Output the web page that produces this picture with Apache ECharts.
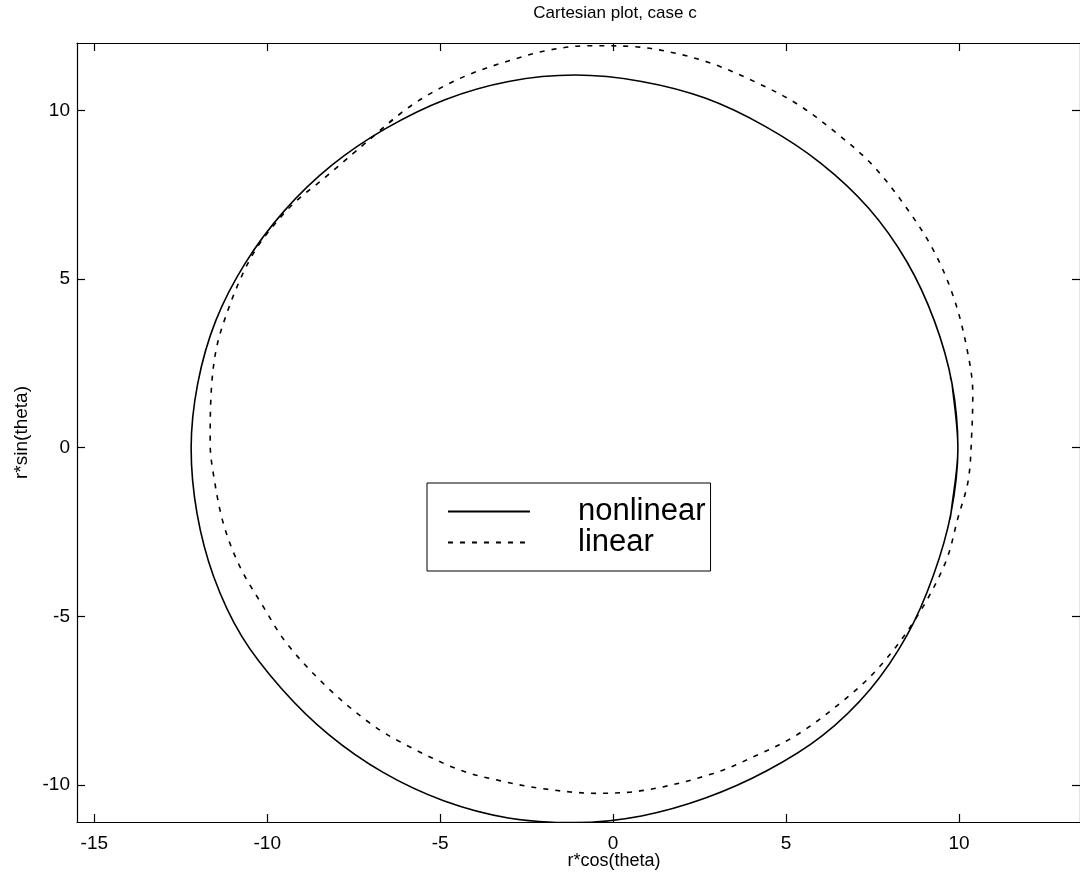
<!DOCTYPE html>
<html>
<head>
<meta charset="utf-8">
<script src="https://cdn.jsdelivr.net/npm/echarts@6/dist/echarts.min.js"></script>
<style>
html,body{margin:0;padding:0;background:#fff;}
#chart{width:1080px;height:886px;}
</style>
</head>
<body>
<div id="chart"></div>
<script>
// nonlinear (solid) curve, traced counter-clockwise (ends overlap so the loop closes smoothly)
var nonlinearX = [9.74, 9.77, 9.97, 9.80, 9.29, 8.49, 7.39, 6.00, 4.41, 2.68, 0.82, -1.10, -3.02, -4.86, -6.58, -8.14, -9.50, -10.63, -11.49, -12.01, -12.20, -12.03, -11.55, -10.74, -9.59, -8.22, -6.65, -4.90, -3.03, -1.10, 0.82, 2.67, 4.43, 6.05, 7.43, 8.50, 9.26, 9.77, 9.97, 9.80, 9.75];
var nonlinearY = [-2.13, -1.94, -0.02, 1.90, 3.76, 5.52, 7.10, 8.44, 9.52, 10.36, 10.86, 11.05, 10.86, 10.32, 9.46, 8.37, 7.03, 5.48, 3.76, 1.90, -0.02, -1.95, -3.82, -5.59, -7.14, -8.51, -9.63, -10.47, -10.98, -11.12, -10.92, -10.39, -9.59, -8.54, -7.17, -5.56, -3.79, -1.94, -0.02, 1.90, 2.09];
// linear (dashed) curve, traced counter-clockwise from the upper-left stretch where it runs under the solid curve
var linearX = [-6.10, -7.20, -8.40, -9.20, -9.92, -10.40, -10.79, -11.17, -11.46, -11.61, -11.65, -11.56, -11.27, -10.79, -10.11, -9.44, -8.28, -7.03, -6.07, -4.43, -3.25, -2.11, -0.47, 0.97, 2.90, 4.20, 5.31, 6.56, 7.62, 8.70, 9.60, 9.98, 10.27, 10.37, 10.40, 10.22, 9.84, 9.26, 8.49, 7.50, 6.47, 5.31, 4.10, 2.89, 1.70, 0.50, -0.70, -1.90, -3.08, -4.20, -5.20, -6.10, -7.20, -8.40];
var linearY = [9.95, 9.00, 7.95, 7.28, 6.46, 5.76, 4.97, 3.98, 2.99, 1.81, 0.13, -0.76, -2.24, -3.53, -4.72, -5.80, -7.09, -8.17, -8.77, -9.56, -9.88, -10.10, -10.25, -10.15, -9.66, -9.10, -8.52, -7.58, -6.59, -5.15, -3.43, -2.05, -0.96, 0.43, 1.60, 2.99, 4.48, 5.86, 7.10, 8.38, 9.32, 10.20, 10.85, 11.38, 11.72, 11.90, 11.92, 11.78, 11.45, 11.05, 10.55, 9.95, 9.00, 7.95];
var xTicks = [-15, -10, -5, 0, 5, 10];
var yTicks = [-10, -5, 0, 5, 10];
var seriesNames = ['nonlinear', 'linear'];

function pairs(xs, ys) { return xs.map(function (x, i) { return [x, ys[i]]; }); }

var FONT = '"Liberation Sans", Arial, Helvetica, sans-serif';
var chart = echarts.init(document.getElementById('chart'), null, {renderer: 'canvas'});

function axisCommon(ticks, showLabels) {
  return {
    type: 'value',
    splitLine: {show: false},
    axisLine: {show: true, onZero: false, lineStyle: {color: '#000', width: 1.2}},
    axisTick: {show: true, inside: true, length: 8, customValues: ticks, lineStyle: {color: '#000', width: 1.2}},
    axisLabel: {show: showLabels, customValues: ticks, color: '#000', fontSize: 19, fontFamily: FONT}
  };
}

var xb = axisCommon(xTicks, true);
xb.position = 'bottom'; xb.min = -15.5; xb.max = 13.5; xb.axisLabel.margin = 12;
var xt = axisCommon(xTicks, false);
xt.position = 'top'; xt.min = -15.5; xt.max = 13.5;
var yl = axisCommon(yTicks, true);
yl.position = 'left'; yl.min = -11.1; yl.max = 12; yl.axisLabel.margin = 7;
yl.name = 'r*sin(theta)'; yl.nameLocation = 'middle'; yl.nameRotate = 90; yl.nameGap = 42;
yl.nameTextStyle = {color: '#000', fontSize: 19, fontFamily: FONT};
var yr = axisCommon(yTicks, false);
yr.position = 'right'; yr.min = -11.1; yr.max = 12;

chart.setOption({
  backgroundColor: '#fff',
  animation: false,
  grid: {left: 77, right: 0, top: 43, bottom: 64, containLabel: false},
  xAxis: [xb, xt],
  yAxis: [yl, yr],
  legend: {
    orient: 'vertical',
    left: 427, top: 483,
    padding: [13, 5, 13, 20],
    itemGap: 0,
    itemWidth: 82, itemHeight: 14,
    backgroundColor: '#fff',
    borderColor: '#000', borderWidth: 1,
    itemStyle: {opacity: 0},
    textStyle: {color: '#000', fontSize: 31, fontFamily: FONT, lineHeight: 30, padding: [0, 0, 0, 43]},
    data: seriesNames
  },
  graphic: [
    {type: 'text', x: 615, y: 13, style: {text: 'Cartesian plot, case c', fill: '#000', font: '17px ' + FONT, textAlign: 'center', textVerticalAlign: 'middle'}},
    {type: 'text', x: 614, y: 861, style: {text: 'r*cos(theta)', fill: '#000', font: '18px ' + FONT, textAlign: 'center', textVerticalAlign: 'middle'}}
  ],
  series: [
    {
      name: seriesNames[0], type: 'line', data: pairs(nonlinearX, nonlinearY),
      symbol: 'none', smooth: 0.34, z: 3,
      lineStyle: {color: '#000', width: 1.6, type: 'solid'},
      itemStyle: {color: '#000'}
    },
    {
      name: seriesNames[1], type: 'line', data: pairs(linearX, linearY),
      symbol: 'none', smooth: 0.34, z: 2,
      lineStyle: {color: '#000', width: 1.6, type: [5, 7]},
      itemStyle: {color: '#000'}
    }
  ]
});
</script>
</body>
</html>
